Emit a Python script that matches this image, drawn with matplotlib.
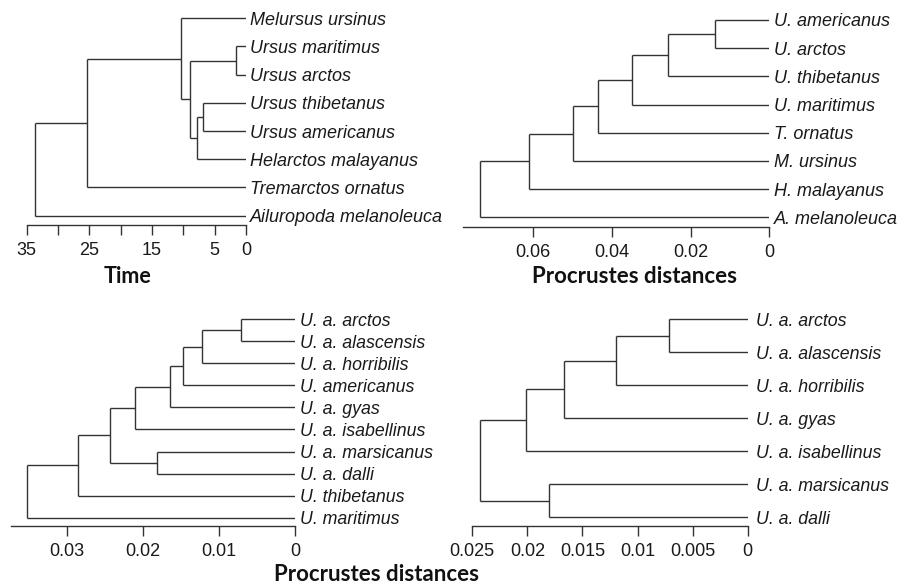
import matplotlib.pyplot as plt

# ---- data ----
# panel A: time tree
time_tips = ["Melursus ursinus", "Ursus maritimus", "Ursus arctos", "Ursus thibetanus",
             "Ursus americanus", "Helarctos malayanus", "Tremarctos ornatus",
             "Ailuropoda melanoleuca"]
# merges: (child a, child b, height); tips are 0..n-1, new nodes numbered from n
time_merges = [(1, 2, 1.6), (3, 4, 6.8), (9, 5, 7.8), (8, 10, 8.9),
               (0, 11, 10.4), (12, 6, 25.3), (13, 7, 33.7)]
time_ticks = [35, 30, 25, 20, 15, 10, 5, 0]
time_ticklabels = ["35", "", "25", "", "15", "", "5", "0"]

# panel B: species shape tree
sp_tips = ["U. americanus", "U. arctos", "U. thibetanus", "U. maritimus",
           "T. ornatus", "M. ursinus", "H. malayanus", "A. melanoleuca"]
sp_merges = [(0, 1, 0.0137), (8, 2, 0.0258), (9, 3, 0.0350), (10, 4, 0.0435),
             (11, 5, 0.0500), (12, 6, 0.0611), (13, 7, 0.0736)]
sp_ticks = [0.06, 0.04, 0.02, 0]
sp_ticklabels = ["0.06", "0.04", "0.02", "0"]

# panel C: subspecies + species
sub_tips = ["U. a. arctos", "U. a. alascensis", "U. a. horribilis", "U. americanus",
            "U. a. gyas", "U. a. isabellinus", "U. a. marsicanus", "U. a. dalli",
            "U. thibetanus", "U. maritimus"]
sub_merges = [(0, 1, 0.00715), (10, 2, 0.0122), (11, 3, 0.0147), (12, 4, 0.0165),
              (13, 5, 0.0211), (6, 7, 0.0182), (14, 15, 0.0244), (16, 8, 0.0286),
              (17, 9, 0.0352)]
sub_ticks = [0.03, 0.02, 0.01, 0]
sub_ticklabels = ["0.03", "0.02", "0.01", "0"]

# panel D: brown bear subspecies only
ua_tips = ["U. a. arctos", "U. a. alascensis", "U. a. horribilis", "U. a. gyas",
           "U. a. isabellinus", "U. a. marsicanus", "U. a. dalli"]
ua_merges = [(0, 1, 0.00714), (7, 2, 0.0120), (8, 3, 0.0167), (9, 4, 0.0201),
             (5, 6, 0.0180), (10, 11, 0.0243)]
ua_ticks = [0.025, 0.02, 0.015, 0.01, 0.005, 0]
ua_ticklabels = ["0.025", "0.02", "0.015", "0.01", "0.005", "0"]

W, H = 914, 585
LC = "#333333"


def px_axes(fig, left, right, top, bottom):
    return fig.add_axes([left / W, 1 - bottom / H, (right - left) / W, (bottom - top) / H])


def draw_tree(ax, tips, merges, fs, gap):
    n = len(tips)
    ys = {i: float(i) for i in range(n)}
    hs = {i: 0.0 for i in range(n)}
    for k, (a, b, h) in enumerate(merges):
        node = n + k
        ax.plot([h, h], [ys[a], ys[b]], color=LC, lw=1.0, solid_capstyle="butt")
        for c in (a, b):
            ax.plot([hs[c], h], [ys[c], ys[c]], color=LC, lw=1.0, solid_capstyle="butt")
        ys[node] = (ys[a] + ys[b]) / 2
        hs[node] = h
    for i, name in enumerate(tips):
        ax.annotate(name, (0, i), xytext=(gap, 0), textcoords="offset points",
                    va="center_baseline", ha="left", fontsize=fs, style="italic",
                    family="Liberation Sans", color="#1a1a1a", annotation_clip=False)


def style_axis(ax, xmax, ylow, ticks, labels, bound):
    ax.set_xlim(xmax, 0)
    ax.set_ylim(ylow, -0.5)
    for s in ("top", "left", "right"):
        ax.spines[s].set_visible(False)
    ax.spines["bottom"].set_bounds(0, bound)
    ax.spines["bottom"].set_color(LC)
    ax.spines["bottom"].set_linewidth(1.0)
    ax.set_yticks([])
    ax.set_xticks(ticks)
    ax.set_xticklabels(labels, family="Liberation Sans", fontsize=13, color="#1a1a1a")
    ax.tick_params(axis="x", length=7, width=1.0, color=LC, pad=5.5)
    ax.patch.set_visible(False)


fig = plt.figure(figsize=(W / 100, H / 100), dpi=100)

ax1 = px_axes(fig, 26.7, 246, 4.2, 225)
draw_tree(ax1, time_tips, time_merges, 13, 3.0)
style_axis(ax1, 35, 7.33, time_ticks, time_ticklabels, 35)

ax2 = px_axes(fig, 463.3, 769.3, 5.9, 226.7)
draw_tree(ax2, sp_tips, sp_merges, 13, 3.5)
style_axis(ax2, 0.0778, 7.33, sp_ticks, sp_ticklabels, 0.0778)

ax3 = px_axes(fig, 10.7, 295, 308.3, 526)
draw_tree(ax3, sub_tips, sub_merges, 12.8, 3.5)
style_axis(ax3, 0.0374, 9.38, sub_ticks, sub_ticklabels, 0.0374)

ax4 = px_axes(fig, 472.3, 747.7, 302.8, 526)
draw_tree(ax4, ua_tips, ua_merges, 12.8, 6.0)
style_axis(ax4, 0.025, 6.26, ua_ticks, ua_ticklabels, 0.025)

title_kw = dict(family="Lato", fontweight="bold", ha="center", va="baseline",
                color="#111111")
fig.text(127 / W, 1 - 283 / H, "Time", fontsize=15.5, **title_kw)
fig.text(635 / W, 1 - 283 / H, "Procrustes distances", fontsize=16, **title_kw)
fig.text(377 / W, 1 - 581 / H, "Procrustes distances", fontsize=16, **title_kw)

fig.savefig("out.png", dpi=100)
